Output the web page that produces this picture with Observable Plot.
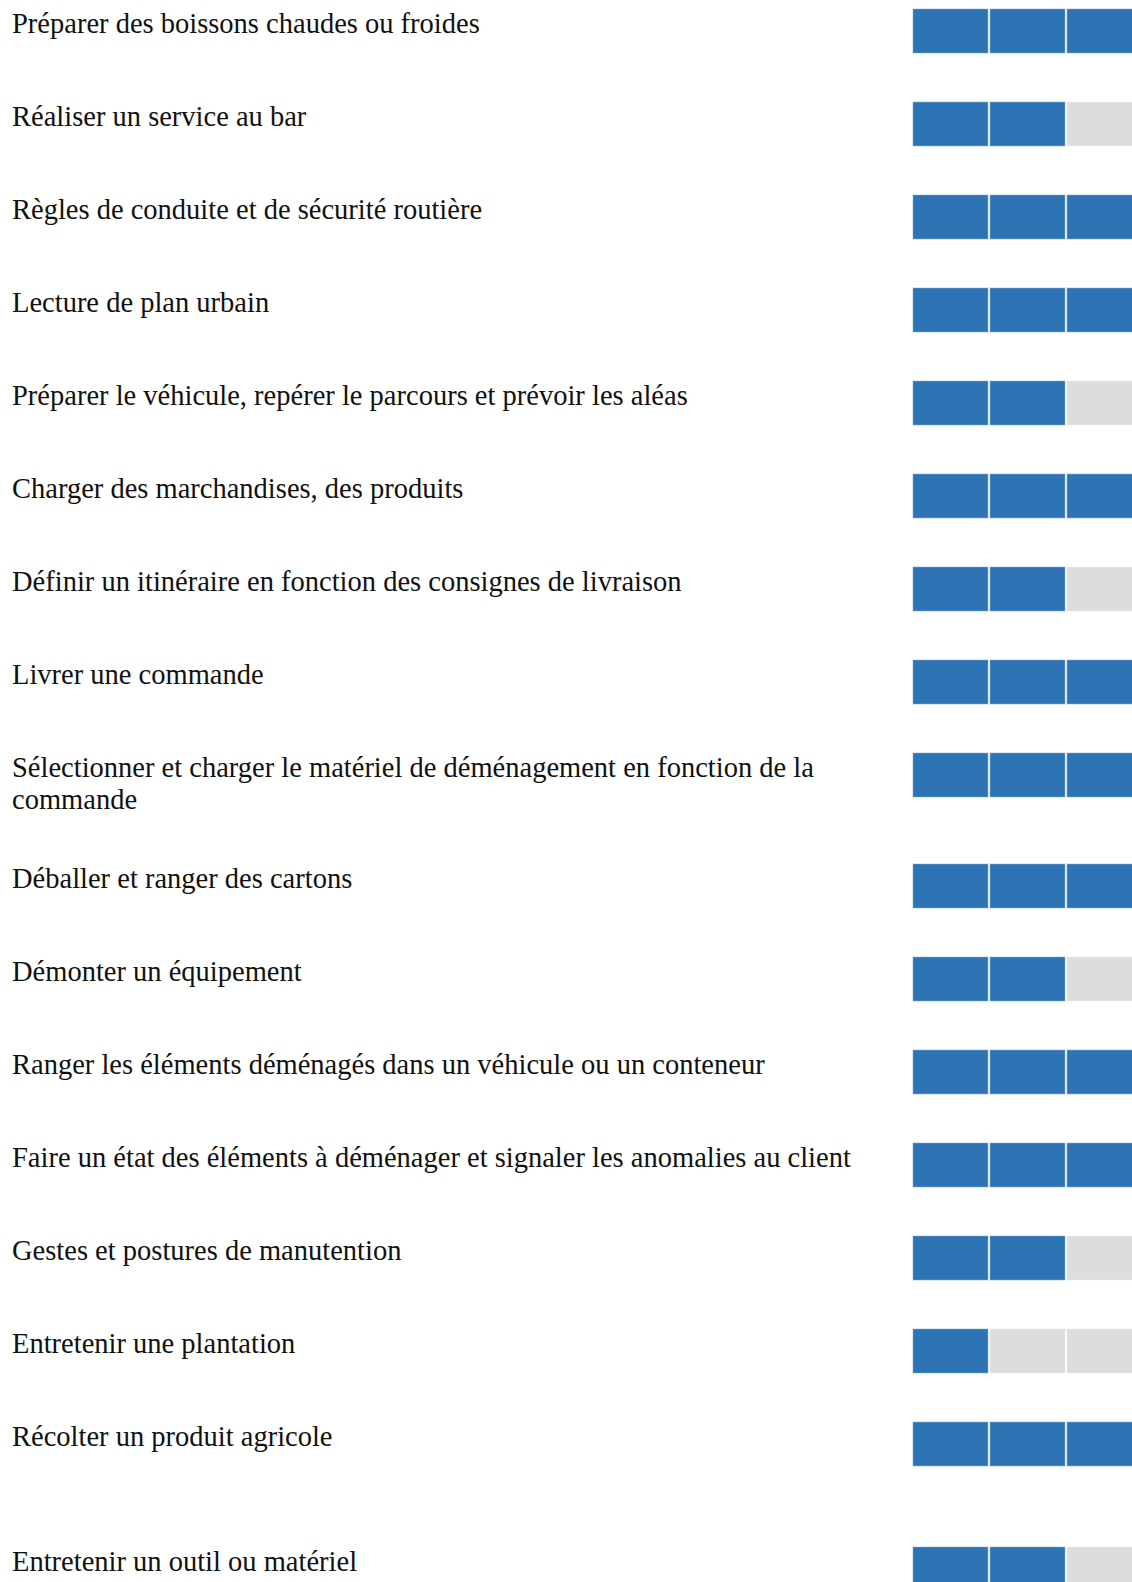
<!DOCTYPE html>
<html lang="fr">
<head>
<meta charset="utf-8">
<script src="https://cdn.jsdelivr.net/npm/d3@7"></script>
<script src="https://cdn.jsdelivr.net/npm/@observablehq/plot@0.6"></script>
<style>
  html, body { margin: 0; padding: 0; background: #fff; overflow: hidden; }
  #chart { padding: 8px 0 0 12px; width: max-content; }
  .row { display: flex; align-items: flex-start; margin-bottom: 47px; }
  .label { flex: none; width: 880px; font-family: "Liberation Serif", Tinos, "DejaVu Serif", serif;
           font-size: 28.5px; line-height: 32px; color: #111; }
  .bars { flex: none; margin-left: 20px; width: 231px; height: 46px; }
  .bars svg { display: block; }
  .blank { height: 32px; }
</style>
</head>
<body>
<div id="chart"></div>
<script>
// Compétences (categories) and niveau atteint (0–3 cases remplies)
const skills = [
  "Préparer des boissons chaudes ou froides",
  "Réaliser un service au bar",
  "Règles de conduite et de sécurité routière",
  "Lecture de plan urbain",
  "Préparer le véhicule, repérer le parcours et prévoir les aléas",
  "Charger des marchandises, des produits",
  "Définir un itinéraire en fonction des consignes de livraison",
  "Livrer une commande",
  "Sélectionner et charger le matériel de déménagement en fonction de la commande",
  "Déballer et ranger des cartons",
  "Démonter un équipement",
  "Ranger les éléments déménagés dans un véhicule ou un conteneur",
  "Faire un état des éléments à déménager et signaler les anomalies au client",
  "Gestes et postures de manutention",
  "Entretenir une plantation",
  "Récolter un produit agricole",
  "Entretenir un outil ou matériel"
];
const levelsReached = [3, 2, 3, 3, 2, 3, 2, 3, 3, 3, 2, 3, 3, 2, 1, 3, 2];
const levels = [1, 2, 3];
const states = ["acquis", "non acquis"];
const stateColors = ["#2E74B5", "#DDDDDD"];
// a blank line appears in the document before this skill
const blankLineBefore = ["Entretenir un outil ou matériel"];

const chart = document.getElementById("chart");
skills.forEach((skill, i) => {
  if (blankLineBefore.includes(skill)) {
    const b = document.createElement("div");
    b.className = "blank";
    chart.appendChild(b);
  }
  const row = document.createElement("div");
  row.className = "row";
  const lab = document.createElement("div");
  lab.className = "label";
  lab.textContent = skill;
  row.appendChild(lab);
  const holder = document.createElement("div");
  holder.className = "bars";
  const data = levels.map(l => ({level: l, state: l <= levelsReached[i] ? states[0] : states[1]}));
  const svg = Plot.plot({
    width: 231,
    height: 46,
    margin: 0,
    style: {background: "transparent", overflow: "visible"},
    x: {type: "band", domain: levels, padding: 0, axis: null},
    color: {domain: states, range: stateColors},
    marks: [
      Plot.cell(data, {x: "level", fill: "state", stroke: "white", strokeOpacity: 0.45, strokeWidth: 1, inset: 0.75})
    ]
  });
  holder.appendChild(svg);
  row.appendChild(holder);
  chart.appendChild(row);
});
</script>
</body>
</html>
